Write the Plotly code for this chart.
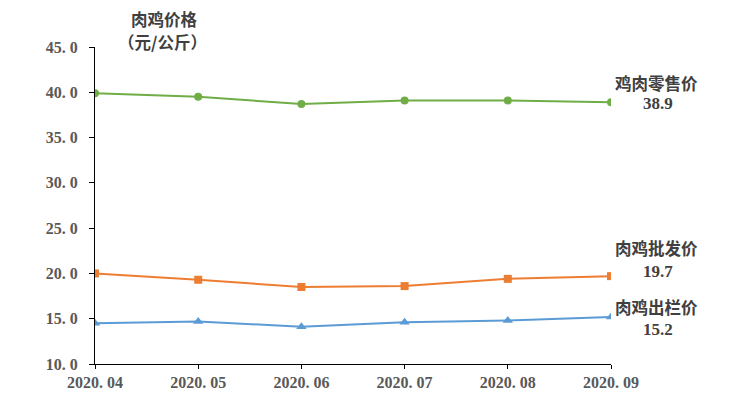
import plotly.graph_objects as go

months = ["2020. 04", "2020. 05", "2020. 06", "2020. 07", "2020. 08", "2020. 09"]
retail = [39.9, 39.5, 38.7, 39.1, 39.1, 38.9]
wholesale = [20.0, 19.3, 18.5, 18.6, 19.4, 19.7]
farmgate = [14.5, 14.7, 14.1, 14.6, 14.8, 15.2]
yticks = [10, 15, 20, 25, 30, 35, 40, 45]
ytext = ["10. 0", "15. 0", "20. 0", "25. 0", "30. 0", "35. 0", "40. 0", "45. 0"]

xs = list(range(len(months)))
fig = go.Figure()
fig.add_trace(go.Scatter(x=xs, y=retail, mode="lines+markers",
                         line=dict(color="#70AD47", width=2),
                         marker=dict(symbol="circle", size=8, color="#70AD47")))
fig.add_trace(go.Scatter(x=xs, y=wholesale, mode="lines+markers",
                         line=dict(color="#ED7D31", width=2),
                         marker=dict(symbol="square", size=8, color="#ED7D31")))
fig.add_trace(go.Scatter(x=xs, y=farmgate, mode="lines+markers",
                         line=dict(color="#5B9BD5", width=2),
                         marker=dict(symbol="triangle-up", size=9, color="#5B9BD5")))

tickfont = dict(family="Liberation Serif, DejaVu Serif, serif", size=16, color="#595959", weight="bold")
cjk = "Noto Sans CJK SC"
# page has an 8px body margin: the paper starts at (8, 8) in the window
OFF = 8
L, T, R, B = 95 - OFF, 47 - OFF, 611 - OFF, 364 - OFF
W, H = 749, 396
fig.update_layout(
    width=W, height=H,
    margin=dict(l=L, r=W - R, t=T, b=H - B),
    paper_bgcolor="white", plot_bgcolor="white",
    showlegend=False,
    xaxis=dict(range=[0, 5], tickvals=xs, ticktext=months, showgrid=False, zeroline=False,
               showline=True, linecolor="#000000", linewidth=1, ticks="outside", ticklen=4,
               tickcolor="#000000", tickfont=tickfont, automargin=False),
    yaxis=dict(range=[10, 45], tickvals=yticks, ticktext=ytext, showgrid=False, zeroline=False,
               showline=True, linecolor="#000000", linewidth=1, ticks="outside", ticklen=5,
               tickcolor="#000000", tickfont=tickfont, automargin=False, ticklabelstandoff=8),
)

def px_to_paper(px, py):
    px -= OFF
    py -= OFF
    return ((px - L) / (R - L), (B - py) / (B - T))

for text, (px, py), fam, sz in [
    ("<b>肉鸡价格</b>", (164, 19), cjk, 16.5),
    ("<b>（元/公斤）</b>", (162, 42), cjk, 16.5),
    ("<b>鸡肉零售价</b>", (656, 83), cjk, 16.5),
    ("<b>38.9</b>", (658, 103), "Liberation Serif", 17),
    ("<b>肉鸡批发价</b>", (656, 248), cjk, 16.5),
    ("<b>19.7</b>", (658, 271), "Liberation Serif", 17),
    ("<b>肉鸡出栏价</b>", (656, 307), cjk, 16.5),
    ("<b>15.2</b>", (658, 329), "Liberation Serif", 17),
]:
    x, y = px_to_paper(px, py)
    fig.add_annotation(text=text, x=x, y=y, xref="paper", yref="paper",
                       xanchor="center", yanchor="middle", showarrow=False,
                       font=dict(family=fam, size=sz, color="#404040"))

fig.write_html("out.html")
